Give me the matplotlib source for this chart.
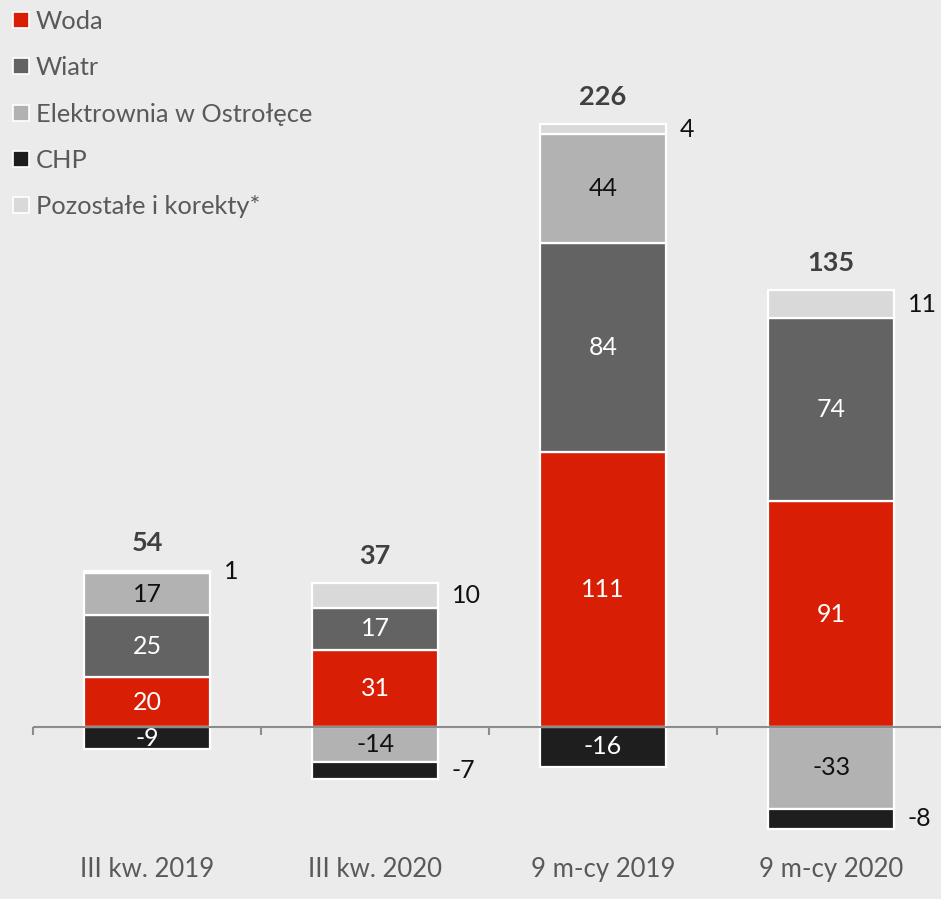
import numpy as np
import matplotlib
matplotlib.use("Agg")
import matplotlib.pyplot as plt
from matplotlib.lines import Line2D

plt.rcParams["font.family"] = ["Lato", "DejaVu Sans"]

categories = ["III kw. 2019", "III kw. 2020", "9 m-cy 2019", "9 m-cy 2020"]
woda = [20, 31, 111, 91]
wiatr = [25, 17, 84, 74]
ostroleka = [17, -14, 44, -33]
chp = [-9, -7, -16, -8]
pozostale = [1, 10, 4, 11]
totals = [54, 37, 226, 135]

names = ["Woda", "Wiatr", "Elektrownia w Ostrołęce", "CHP", "Pozostałe i korekty*"]
values = [woda, wiatr, ostroleka, chp, pozostale]
colors = ["#d81e05", "#636363", "#b2b2b2", "#1e1e1e", "#d9d9d9"]
text_colors = ["white", "white", "#111111", "white", "#111111"]

BG = "#ebebeb"
fig = plt.figure(figsize=(9.41, 8.99), dpi=100, facecolor=BG)
ax = fig.add_axes([0, 0, 1, 1])
ax.set_facecolor(BG)
ax.axis("off")

x = np.arange(len(categories))
width = 0.553
pos_base = np.zeros(len(categories))
neg_base = np.zeros(len(categories))

for name, vals, col, tcol in zip(names, values, colors, text_colors):
    vals = np.array(vals, dtype=float)
    bottoms = np.where(vals >= 0, pos_base, neg_base)
    ax.bar(x, vals, width, bottom=bottoms, color=col, edgecolor="white",
           linewidth=1.6, zorder=2)
    for i, v in enumerate(vals):
        base = bottoms[i]
        mid = base + v / 2
        if abs(v) <= 11 and base != 0:
            # small stacked segments get their label beside the bar
            ax.text(x[i] + width / 2 + 0.06, mid, f"{v:g}", ha="left", va="center",
                    fontsize=18, color="#111111", zorder=4)
        else:
            ax.text(x[i], mid, f"{v:g}", ha="center", va="center",
                    fontsize=18, color=tcol, zorder=4)
    pos_base = pos_base + np.where(vals >= 0, vals, 0)
    neg_base = neg_base + np.where(vals < 0, vals, 0)

# net totals above the positive stack
for i, t in enumerate(totals):
    ax.text(x[i], pos_base[i] + 11, str(t), ha="center", va="center",
            fontsize=19.5, fontweight="bold", color="#404040", zorder=4)

# zero line with separator ticks between categories
ax.plot([-0.5, 3.6], [0, 0], color="#8c8c8c", linewidth=1.5, zorder=3,
        solid_capstyle="butt")
ax.vlines(np.arange(-0.5, 3.0, 1.0), -3.2, 0, color="#8c8c8c", linewidth=1.5, zorder=3)

for i, c in enumerate(categories):
    ax.text(x[i], -57.5, c, ha="center", va="center", fontsize=18.5, color="#595959")

ax.set_xlim(-0.645, 3.482)
ax.set_ylim(-69.4, 293.1)

handles = [Line2D([0], [0], marker="s", linestyle="none", markersize=12,
                  markerfacecolor=c, markeredgecolor="white", markeredgewidth=1.2,
                  label=n) for n, c in zip(names, colors)]
leg = fig.legend(handles=handles, loc="upper left", bbox_to_anchor=(0.011, 0.992),
                 frameon=False, fontsize=18.3, labelcolor="#595959",
                 handlelength=0.6, handletextpad=0.3, labelspacing=0.92,
                 borderpad=0.1, borderaxespad=0.0)

fig.savefig("out.png", dpi=100, facecolor=BG)
